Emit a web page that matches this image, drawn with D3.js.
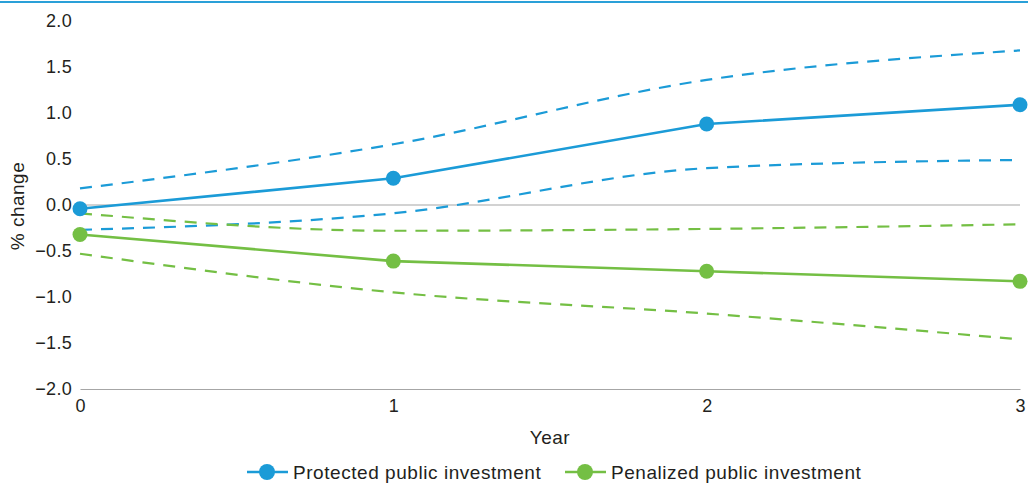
<!DOCTYPE html>
<html>
<head>
<meta charset="utf-8">
<script src="https://cdn.jsdelivr.net/npm/d3@7"></script>
<style>
  html, body { margin: 0; padding: 0; background: #fff; }
  svg { display: block; font-family: "Liberation Sans", Arial, sans-serif; }
</style>
</head>
<body>
<svg id="chart" width="1028" height="489"></svg>
<script>
// Years after the shock
const years = [0, 1, 2, 3];
const yTicks = [-2.0, -1.5, -1.0, -0.5, 0.0, 0.5, 1.0, 1.5, 2.0];

// Point estimates
const protectedMean = [-0.04, 0.29, 0.88, 1.09];
const penalizedMean = [-0.32, -0.61, -0.72, -0.83];

// Confidence bands
const protectedUpper = [0.18, 0.66, 1.36, 1.68];
const protectedLower = [-0.27, -0.09, 0.40, 0.49];
const penalizedUpper = [-0.09, -0.28, -0.26, -0.21];
const penalizedLower = [-0.53, -0.95, -1.18, -1.46];

const seriesNames = ["Protected public investment", "Penalized public investment"];

const BLUE = "#1b9bd7";
const GREEN = "#74bf44";
const TEXT = "#231f20";
const FONT = "Liberation Sans, Arial, sans-serif";

const svg = d3.select("#chart");

// Top rule
svg.append("line")
  .attr("x1", 0).attr("x2", 1028).attr("y1", 2).attr("y2", 2)
  .attr("stroke", "#2aa0d8").attr("stroke-width", 2);

const x = d3.scaleLinear().domain([0, 3]).range([80, 1020]);
const y = d3.scaleLinear().domain([-2, 2]).range([389, 21]);

// Y axis labels
const yAxis = d3.axisLeft(y).tickValues(yTicks)
  .tickFormat(d => d3.format(".1f")(d).replace("-", "\u2212"))
  .tickSize(0).tickPadding(8);
const gy = svg.append("g").attr("transform", "translate(80,0)").call(yAxis);
gy.select(".domain").remove();
gy.selectAll("text").attr("font-size", 18).attr("fill", TEXT)
  .attr("letter-spacing", 0.3).attr("font-family", FONT);

// X axis
const xAxis = d3.axisBottom(x).tickValues(years).tickFormat(d3.format("d"))
  .tickSize(0).tickPadding(10);
const gx = svg.append("g").attr("transform", "translate(0,389)").call(xAxis);
gx.select(".domain").attr("stroke", "#a6a6a6").attr("stroke-width", 1.2);
gx.selectAll("text").attr("font-size", 18).attr("fill", TEXT).attr("font-family", FONT);

// Zero line
svg.append("line")
  .attr("x1", x(0)).attr("x2", x(3)).attr("y1", y(0)).attr("y2", y(0))
  .attr("stroke", "#a6a6a6").attr("stroke-width", 1.2);

// Axis titles
svg.append("text").attr("x", 550).attr("y", 444).attr("text-anchor", "middle")
  .attr("font-size", 19).attr("letter-spacing", 0.5).attr("fill", TEXT).text("Year");
svg.append("text").attr("transform", "translate(24,206) rotate(-90)")
  .attr("text-anchor", "middle").attr("font-size", 19).attr("letter-spacing", 0.5)
  .attr("fill", TEXT).text("% change");

const bandLine = d3.line().x((d, i) => x(years[i])).y(d => y(d)).curve(d3.curveMonotoneX);
const meanLine = d3.line().x((d, i) => x(years[i])).y(d => y(d));

function drawBand(vals, color) {
  svg.append("path").datum(vals).attr("d", bandLine)
    .attr("fill", "none").attr("stroke", color).attr("stroke-width", 2.2)
    .attr("stroke-dasharray", "12,9");
}
drawBand(protectedUpper, BLUE);
drawBand(protectedLower, BLUE);
drawBand(penalizedUpper, GREEN);
drawBand(penalizedLower, GREEN);

function drawMean(vals, color) {
  svg.append("path").datum(vals).attr("d", meanLine)
    .attr("fill", "none").attr("stroke", color).attr("stroke-width", 2.6);
  svg.append("g").selectAll("circle").data(vals).join("circle")
    .attr("cx", (d, i) => x(years[i])).attr("cy", d => y(d)).attr("r", 7.5)
    .attr("fill", color);
}
drawMean(penalizedMean, GREEN);
drawMean(protectedMean, BLUE);

// Legend
const legend = [
  { name: seriesNames[0], color: BLUE, x0: 247 },
  { name: seriesNames[1], color: GREEN, x0: 565 }
];
const lg = svg.append("g");
legend.forEach(l => {
  lg.append("line").attr("x1", l.x0).attr("x2", l.x0 + 41).attr("y1", 472).attr("y2", 472)
    .attr("stroke", l.color).attr("stroke-width", 2.4);
  lg.append("circle").attr("cx", l.x0 + 20).attr("cy", 472).attr("r", 8).attr("fill", l.color);
  lg.append("text").attr("x", l.x0 + 46).attr("y", 479).attr("font-size", 19)
    .attr("letter-spacing", 0.55).attr("fill", TEXT).text(l.name);
});
</script>
</body>
</html>
